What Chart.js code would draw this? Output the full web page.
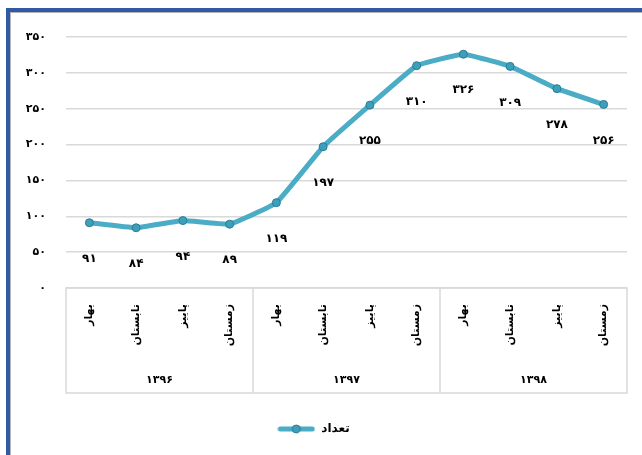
<!DOCTYPE html>
<html>
<head>
<meta charset="utf-8">
<script src="https://cdn.jsdelivr.net/npm/chart.js@4"></script>
<style>
    body { margin: 0; background: #fff; }
    #wrap { position: relative; width: 642px; height: 455px; overflow: hidden; }
    .frame { position: absolute; left: 6px; top: 8px; width: 700px; height: 500px;
             border-top: 4px solid #3259a6; border-left: 4px solid #3259a6; }
    .frame-in { position: absolute; left: 10px; top: 12px; width: 700px; height: 500px;
                border-top: 1px solid #b4b4b4; border-left: 1px solid #b4b4b4; }
    canvas { position: absolute; left: 0; top: 0; }
</style>
</head>
<body>
<div id="wrap">
    <div class="frame"></div>
    <div class="frame-in"></div>
    <canvas id="chart" width="642" height="455"></canvas>
</div>
<script>
// chart data
const seasons = ['بهار', 'تابستان', 'پاییز', 'زمستان'];
const years = ['۱۳۹۶', '۱۳۹۷', '۱۳۹۸'];
const categories = [
    'بهار', 'تابستان', 'پاییز', 'زمستان',
    'بهار', 'تابستان', 'پاییز', 'زمستان',
    'بهار', 'تابستان', 'پاییز', 'زمستان'
];
const values = [91, 84, 94, 89, 119, 197, 255, 310, 326, 309, 278, 256];
const seriesName = 'تعداد';

const FONT = "'DejaVu Sans', sans-serif";
const LINE = '#4bacc6';

function fa(n) {
    return String(n).replace(/\d/g, d => '۰۱۲۳۴۵۶۷۸۹'[d]);
}

// legend symbol: line with a marker in the middle
const sym = document.createElement('canvas');
sym.width = 38; sym.height = 12;
(function () {
    const c = sym.getContext('2d');
    c.strokeStyle = LINE; c.lineWidth = 5; c.lineCap = 'round';
    c.beginPath(); c.moveTo(3, 6); c.lineTo(35, 6); c.stroke();
    c.fillStyle = '#3e9fba'; c.strokeStyle = '#2a7d94'; c.lineWidth = 1;
    c.beginPath(); c.arc(19, 6, 4, 0, Math.PI * 2); c.fill(); c.stroke();
})();

// value labels under the points
const valueLabels = {
    id: 'valueLabels',
    afterDatasetsDraw(chart) {
        const ctx = chart.ctx;
        const meta = chart.getDatasetMeta(0);
        ctx.save();
        ctx.font = 'bold 12px ' + FONT;
        ctx.fillStyle = '#000';
        ctx.textAlign = 'center';
        ctx.textBaseline = 'middle';
        meta.data.forEach((pt, i) => {
            ctx.fillText(fa(values[i]), pt.x, pt.y + 36);
        });
        ctx.restore();
    }
};

// box around the two-level category axis
const axisBox = {
    id: 'axisBox',
    afterDraw(chart) {
        const ctx = chart.ctx;
        const area = chart.chartArea;
        const x = chart.scales.x;
        const bottom = chart.scales.x2.bottom;
        ctx.save();
        ctx.strokeStyle = '#d9d9d9';
        ctx.lineWidth = 1.5;
        ctx.strokeRect(area.left, area.bottom, area.right - area.left, bottom - area.bottom);
        for (let g = 1; g < years.length; g++) {
            const i = g * seasons.length;
            const px = (x.getPixelForValue(i - 1) + x.getPixelForValue(i)) / 2;
            ctx.beginPath();
            ctx.moveTo(px, area.bottom);
            ctx.lineTo(px, bottom);
            ctx.stroke();
        }
        ctx.restore();
    }
};

// push the legend a bit lower, as in the original
const legendShift = {
    id: 'legendShift',
    afterLayout(chart) {
        chart.legend.top += 18;
        chart.legend.bottom += 18;
    }
};

new Chart(document.getElementById('chart'), {
    type: 'line',
    data: {
        labels: categories,
        datasets: [{
            label: seriesName,
            data: values,
            borderColor: LINE,
            borderWidth: 5,
            tension: 0.1,
            pointRadius: 4,
            pointBackgroundColor: '#3e9fba',
            pointBorderColor: '#2a7d94',
            pointBorderWidth: 1
        }]
    },
    options: {
        responsive: false,
        animation: false,
        layout: { padding: { left: 0, right: 15, top: 37, bottom: 28 } },
        scales: {
            y: {
                min: 0,
                max: 350,
                afterFit: s => { s.width = 66; },
                ticks: {
                    stepSize: 50,
                    padding: 20,
                    color: '#000',
                    font: { family: FONT, size: 11, weight: 'bold' },
                    callback: v => fa(v)
                },
                grid: { color: '#d9d9d9', lineWidth: 1.5, drawTicks: false },
                border: { display: false }
            },
            x: {
                offset: true,
                afterFit: s => { s.height = 62; },
                ticks: {
                    minRotation: 90,
                    maxRotation: 90,
                    padding: 8,
                    color: '#000',
                    font: { family: FONT, size: 11, weight: 'bold' }
                },
                grid: { display: false },
                border: { display: false }
            },
            x2: {
                type: 'category',
                position: 'bottom',
                labels: years,
                offset: true,
                afterFit: s => { s.height = 43; },
                ticks: {
                    padding: 16,
                    color: '#000',
                    font: { family: FONT, size: 11, weight: 'bold' }
                },
                grid: { display: false },
                border: { display: false }
            }
        },
        plugins: {
            legend: {
                position: 'bottom',
                labels: {
                    usePointStyle: true,
                    pointStyleWidth: 38,
                    padding: 12,
                    color: '#000',
                    font: { family: FONT, size: 12, weight: 'bold' },
                    generateLabels: () => [{
                        text: seriesName,
                        pointStyle: sym,
                        fillStyle: LINE,
                        strokeStyle: LINE,
                        lineWidth: 0,
                        datasetIndex: 0
                    }]
                }
            },
            tooltip: { enabled: false }
        }
    },
    plugins: [valueLabels, axisBox, legendShift]
});
</script>
</body>
</html>
